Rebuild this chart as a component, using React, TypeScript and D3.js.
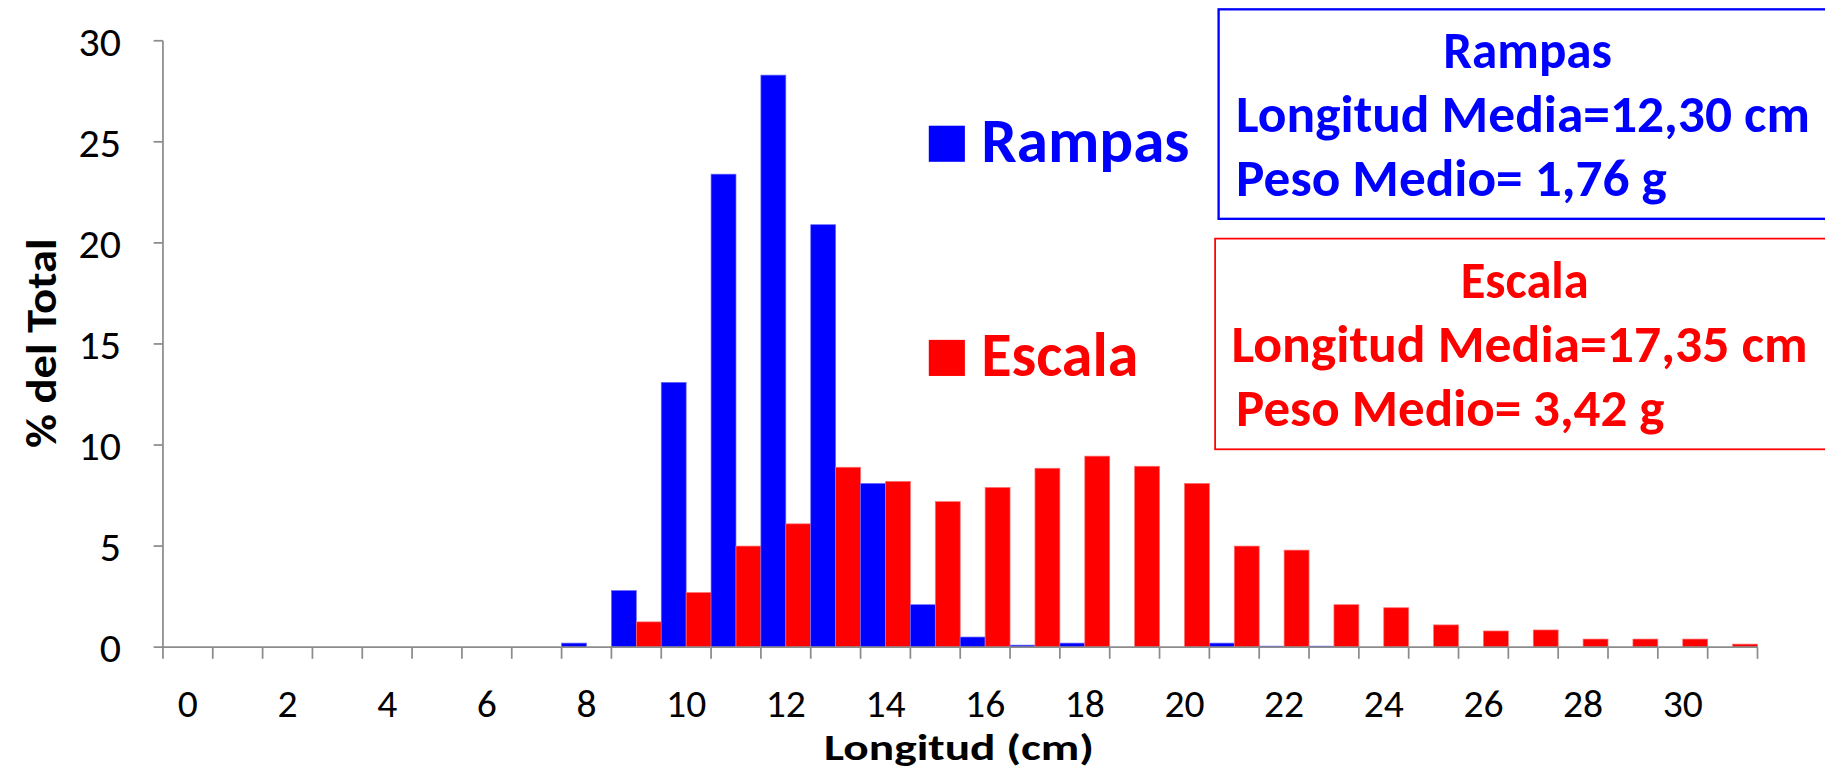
import React from "react";
import * as d3 from "d3";

// Longitud (cm) classes
const lengths = [0, 1, 2, 3, 4, 5, 6, 7, 8, 9, 10, 11, 12, 13, 14, 15, 16, 17, 18, 19, 20, 21, 22, 23, 24, 25, 26, 27, 28, 29, 30, 31];
// % del total per class
const rampas = [0, 0, 0, 0, 0, 0, 0, 0, 0.2, 2.8, 13.1, 23.4, 28.3, 20.9, 8.1, 2.1, 0.5, 0.1, 0.2, 0, 0, 0.2, 0.05, 0.05, 0, 0, 0, 0, 0, 0, 0, 0];
const escala = [0, 0, 0, 0, 0, 0, 0, 0, 0, 1.25, 2.7, 5.0, 6.1, 8.9, 8.2, 7.2, 7.9, 8.85, 9.45, 8.95, 8.1, 5.0, 4.8, 2.1, 1.95, 1.1, 0.8, 0.85, 0.4, 0.4, 0.4, 0.15];
const yTicks = [0, 5, 10, 15, 20, 25, 30];
const seriesNames = ["Rampas", "Escala"];
const rampasInfo = ["Rampas", "Longitud Media=12,30 cm", "Peso Medio= 1,76 g"];
const escalaInfo = ["Escala", "Longitud Media=17,35 cm", "Peso Medio= 3,42 g"];

const W = 1568;
const H = 662.4;
const FONT = "Carlito, Calibri, Lato, sans-serif";
const BLUE = "#0000ff";
const RED = "#ff0000";
const AXIS = "#8c8c8c";

export default function App() {
  const x = d3.scaleBand<number>().domain(lengths).range([140, 1510]).padding(0);
  const sub = d3.scaleBand<string>().domain(seriesNames).range([0, x.bandwidth()]).padding(0);
  const y = d3.scaleLinear().domain([0, 30]).range([556, 35]);

  const boundaries = lengths.map((d) => x(d)!).concat([x.range()[1]]);

  const fit = { lengthAdjust: "spacingAndGlyphs" as const };

  return (
    <svg
      width={1825}
      height={771}
      viewBox={`0 0 ${W} ${H}`}
      style={{ position: "absolute", left: 0, top: 0, background: "#fff" }}
      fontFamily={FONT}
    >
      {/* bars */}
      {lengths.map((d, i) => (
        <g key={d}>
          {rampas[i] > 0 && (
            <rect x={x(d)! + sub("Rampas")!} y={y(rampas[i])} width={sub.bandwidth()} height={y(0) - y(rampas[i])}
              fill={BLUE} stroke="#6a6aff" strokeWidth={0.6} />
          )}
          {escala[i] > 0 && (
            <rect x={x(d)! + sub("Escala")!} y={y(escala[i])} width={sub.bandwidth()} height={y(0) - y(escala[i])}
              fill={RED} stroke="#ff7070" strokeWidth={0.6} />
          )}
        </g>
      ))}

      {/* y axis */}
      <line x1={140} x2={140} y1={y(30)} y2={y(0)} stroke={AXIS} strokeWidth={1.5} />
      {yTicks.map((t) => (
        <g key={t}>
          <line x1={132} x2={140} y1={y(t)} y2={y(t)} stroke={AXIS} strokeWidth={1.5} />
          <text x={104} y={y(t)} dy="0.36em" textAnchor="end" fontSize={36} fill="#000">{t}</text>
        </g>
      ))}
      <text transform={`translate(48,295) rotate(-90)`} textAnchor="middle" fontSize={37} fontWeight="bold" fill="#000"
        textLength={180} {...fit}>
        % del Total
      </text>

      {/* x axis */}
      <line x1={140} x2={1510} y1={y(0)} y2={y(0)} stroke={AXIS} strokeWidth={1.5} />
      {boundaries.map((b, i) => (
        <line key={i} x1={b} x2={b} y1={y(0)} y2={y(0) + 10} stroke={AXIS} strokeWidth={1.5} />
      ))}
      {lengths.filter((d) => d % 2 === 0).map((d) => (
        <text key={d} x={x(d)! + x.bandwidth() / 2} y={604} dy="0.36em" textAnchor="middle" fontSize={34} fill="#000">
          {d}
        </text>
      ))}
      <text x={824} y={653} textAnchor="middle" fontSize={32} fontWeight="bold" fill="#000"
        textLength={232} {...fit}>
        Longitud (cm)
      </text>

      {/* legend */}
      <rect x={798} y={108} width={31} height={31} fill={BLUE} />
      <text x={843} y={139} fontSize={54} fontWeight="bold" fill={BLUE} textLength={179} {...fit}>{seriesNames[0]}</text>
      <rect x={798} y={292} width={31} height={31} fill={RED} />
      <text x={843} y={323} fontSize={54} fontWeight="bold" fill={RED} textLength={135} {...fit}>{seriesNames[1]}</text>

      {/* info boxes */}
      <rect x={1047} y={8} width={600} height={180} fill="none" stroke={BLUE} strokeWidth={2} />
      <text x={1240} y={58} fontSize={45} fontWeight="bold" fill={BLUE} textLength={145} {...fit}>{rampasInfo[0]}</text>
      <text x={1062} y={113} fontSize={45} fontWeight="bold" fill={BLUE} textLength={493} {...fit}>{rampasInfo[1]}</text>
      <text x={1062} y={168} fontSize={45} fontWeight="bold" fill={BLUE} textLength={370} {...fit}>{rampasInfo[2]}</text>

      <rect x={1044} y={205} width={600} height={181} fill="none" stroke={RED} strokeWidth={1.5} />
      <text x={1255} y={256} fontSize={45} fontWeight="bold" fill={RED} textLength={110} {...fit}>{escalaInfo[0]}</text>
      <text x={1058} y={311} fontSize={45} fontWeight="bold" fill={RED} textLength={495} {...fit}>{escalaInfo[1]}</text>
      <text x={1062} y={366} fontSize={45} fontWeight="bold" fill={RED} textLength={368} {...fit}>{escalaInfo[2]}</text>
    </svg>
  );
}
